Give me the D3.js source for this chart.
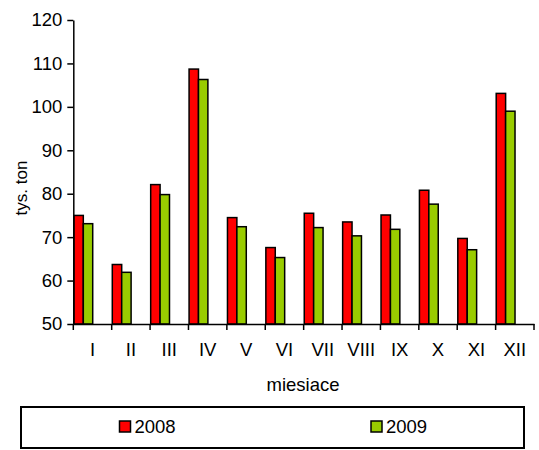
<!DOCTYPE html>
<html><head><meta charset="utf-8">
<script src="https://cdn.jsdelivr.net/npm/d3@7"></script>
<style>body{margin:0;background:#fff}svg{display:block}text{font-family:"Liberation Sans",Arial,sans-serif;fill:#000}</style>
</head><body><svg id="c" width="539" height="450"></svg>
<script>
const categories = ["I","II","III","IV","V","VI","VII","VIII","IX","X","XI","XII"];
const series2008 = [75.0,63.7,82.1,108.7,74.5,67.6,75.5,73.5,75.1,80.8,69.7,103.1];
const series2009 = [73.1,61.9,79.8,106.3,72.4,65.3,72.2,70.3,71.8,77.6,67.1,99.0];
const seriesNames = ["2008","2009"];
const seriesColors = ["#FF0000","#99CC00"];
const yTicks = [50,60,70,80,90,100,110,120];

(function(){
const svg = d3.select("#c");
const pL = 73.3, pR = 534, pT = 20, pB = 324;
const fs = "18.5px";
const x = d3.scaleBand().domain(categories).range([pL, pR]).padding(0);
const y = d3.scaleLinear().domain([50,120]).range([pB, pT]);
const bw = x.bandwidth();
const barW = bw*0.245;
const data = [series2008, series2009];

// bars
data.forEach((vals, si) => {
  svg.append("g").selectAll("rect").data(vals).join("rect")
    .attr("x", (d,i) => x(categories[i]) + 0.6 + si*barW)
    .attr("y", d => y(d))
    .attr("width", barW)
    .attr("height", d => y(50) - y(d))
    .attr("fill", seriesColors[si])
    .attr("stroke", "#000").attr("stroke-width", 1.5);
});

// y axis
const ya = svg.append("g").attr("transform", `translate(${pL},0)`)
  .call(d3.axisLeft(y).tickValues(yTicks).tickSize(6).tickPadding(5).tickSizeOuter(0));
ya.select(".domain").attr("stroke","#000").attr("stroke-width",1.5);
ya.selectAll(".tick line").attr("stroke","#000").attr("stroke-width",1.5);
ya.selectAll(".tick text").style("font-size", fs).attr("font-family",null);

// x axis
const xa = svg.append("g").attr("transform", `translate(0,${pB})`)
  .call(d3.axisBottom(x).tickSize(0).tickPadding(19));
xa.select(".domain").attr("stroke","#000").attr("stroke-width",1.5);
xa.selectAll(".tick text").style("font-size", fs).attr("font-family",null);
// tick marks between categories
const bounds = categories.map(c => x(c)).concat([pR]);
svg.append("g").selectAll("line").data(bounds).join("line")
  .attr("x1", d=>d).attr("x2", d=>d).attr("y1", pB).attr("y2", pB+6)
  .attr("stroke","#000").attr("stroke-width",1.5);

// axis titles
svg.append("text").attr("transform", "translate(27,188) rotate(-90)")
  .attr("text-anchor","middle").style("font-size","17px").text("tys. ton");
svg.append("text").attr("x", 303).attr("y", 391).attr("text-anchor","middle")
  .style("font-size","18.5px").text("miesiace");

// legend
svg.append("rect").attr("x",21).attr("y",407).attr("width",503).attr("height",41)
  .attr("fill","#fff").attr("stroke","#000").attr("stroke-width",2);
const legX = [119.5, 371];
seriesNames.forEach((n,i) => {
  svg.append("rect").attr("x", legX[i]).attr("y", 421).attr("width", 11).attr("height", 11)
    .attr("fill", seriesColors[i]).attr("stroke","#000").attr("stroke-width",1.5);
  svg.append("text").attr("x", legX[i]+15).attr("y", 432.5).style("font-size", fs).text(n);
});
})();
</script></body></html>
